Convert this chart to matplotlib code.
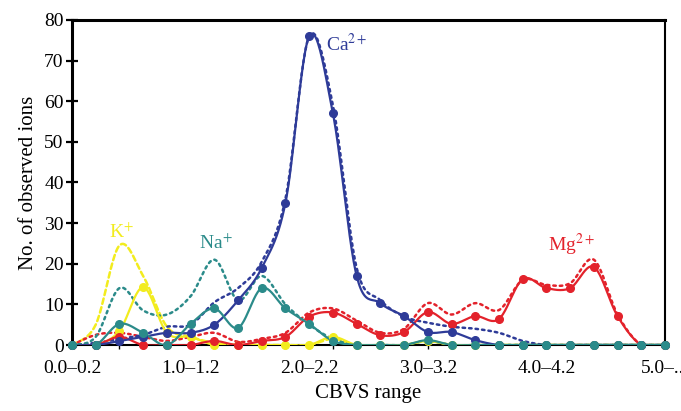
import numpy as np
import matplotlib
matplotlib.use("Agg")
import matplotlib.pyplot as plt

# ---- data ----
categories = ["0.0–0.2", "0.2–0.4", "0.4–0.6", "0.6–0.8", "0.8–1.0",
              "1.0–1.2", "1.2–1.4", "1.4–1.6", "1.6–1.8", "1.8–2.0",
              "2.0–2.2", "2.2–2.4", "2.4–2.6", "2.6–2.8", "2.8–3.0",
              "3.0–3.2", "3.2–3.4", "3.4–3.6", "3.6–3.8", "3.8–4.0",
              "4.0–4.2", "4.2–4.4", "4.4–4.6", "4.6–4.8", "4.8–5.0",
              "5.0–..."]
labeled_ticks = ["0.0–0.2", "1.0–1.2", "2.0–2.2", "3.0–3.2", "4.0–4.2", "5.0–..."]

ca_obs = [0, 0, 1, 2, 3, 3, 5, 11, 19, 35, 76, 57, 17, 10.3, 7.1, 3.2, 3.2, 1.2, 0, 0, 0, 0, 0, 0, 0, 0]
ca_exp = [0, 0.5, 1.5, 2.5, 4.5, 5, 10.5, 14, 20.5, 36, 76, 59, 19, 11, 7, 5.5, 4.5, 4, 3, 1, 0, 0, 0, 0, 0, 0]

na_obs = [0, 0, 5.2, 3, 0, 5.2, 9, 4.2, 14, 9, 5.2, 1, 0, 0, 0, 1.2, 0, 0, 0, 0, 0, 0, 0, 0, 0, 0]
na_exp = [0, 2, 14, 8.5, 7.5, 12, 21, 11, 17, 10, 5, 1.5, 0, 0, 0, 1, 0, 0, 0, 0, 0, 0, 0, 0, 0, 0]

k_obs = [0, 0, 3.5, 14.2, 3, 2, 0, 0, 0, 0, 0, 2, 0, 0, 0, 1, 0, 0, 0, 0, 0, 0, 0, 0, 0, 0]
k_exp = [0, 5, 24.5, 17, 4.5, 2, 0.5, 0, 0, 0, 0, 1.5, 0, 0, 0, 1, 0, 0, 0, 0, 0, 0, 0, 0, 0, 0]

mg_obs = [0, 0, 2, 0, 0, 0, 1, 0, 1, 2, 7, 8, 5.2, 2.4, 3.2, 8.1, 5.2, 7.1, 6.4, 16.2, 14, 14, 19.2, 7.1, 0, 0]
mg_exp = [0, 2.5, 3, 2, 1, 2, 3, 0.8, 1.5, 3, 8, 9, 6, 3, 4, 10.3, 7.5, 10.3, 8.6, 16, 14.8, 15.2, 21, 7.5, 0, 0]

COL_CA = "#2e3b98"
COL_NA = "#2b8b8a"
COL_K = "#f2ec1e"
COL_MG = "#e3222b"

plt.rcParams["font.family"] = ["Liberation Serif", "DejaVu Serif"]
plt.rcParams["mathtext.fontset"] = "stix"

fig = plt.figure(figsize=(6.81, 4.11), dpi=100)
ax = fig.add_axes([72 / 681, 1 - 345 / 411, (665 - 72) / 681, (345 - 20) / 411])

XS, YS = 23.72, 4.0625  # pixel scale for smoothing


def smooth(vals, n=24):
    x = np.arange(len(vals), dtype=float) * XS
    y = np.asarray(vals, dtype=float) * YS
    P = np.column_stack([x, y])
    P = np.vstack([P[0], P, P[-1]])
    out = []
    t = np.linspace(0, 1, n, endpoint=False)
    for i in range(1, len(P) - 2):
        p0, p1, p2, p3 = P[i - 1], P[i], P[i + 1], P[i + 2]
        c1 = p1 + (p2 - p0) / 6
        c2 = p2 - (p3 - p1) / 6
        seg = ((1 - t) ** 3)[:, None] * p1 + (3 * (1 - t) ** 2 * t)[:, None] * c1 \
            + (3 * (1 - t) * t ** 2)[:, None] * c2 + (t ** 3)[:, None] * p2
        out.append(seg)
    out.append(P[-2][None, :])
    S = np.vstack(out)
    return S[:, 0] / XS, S[:, 1] / YS


idx = np.arange(len(categories))
dot = (0, (1.0, 1.6))

series = [
    (k_obs, k_exp, COL_K, (0, (2.2, 1.4))),
    (mg_obs, mg_exp, COL_MG, dot),
    (ca_obs, ca_exp, COL_CA, dot),
    (na_obs, na_exp, COL_NA, dot),
]

for obs, exp, col, ls in series:
    sx, sy = smooth(exp)
    ax.plot(sx, sy, color=col, lw=1.8, linestyle=ls, dash_capstyle="round", zorder=2)
for obs, exp, col, ls in series:
    sx, sy = smooth(obs)
    ax.plot(sx, sy, color=col, lw=1.6, zorder=3)
    ax.plot(idx, obs, linestyle="none", marker="o", ms=5.5, color=col,
            clip_on=False, zorder=4)

ax.set_xlim(0, len(categories) - 1)
ax.set_ylim(0, 80)
ax.set_yticks(np.arange(0, 81, 10))
ax.set_xticks(idx)
ax.set_xticklabels([c if c in labeled_ticks else "" for c in categories])

ax.tick_params(axis="y", direction="inout", length=8, width=1.6, labelsize=14, pad=2)
ax.tick_params(axis="x", direction="out", length=3, width=1.0, labelsize=14, pad=8)

for s in ["left", "top"]:
    ax.spines[s].set_linewidth(2.2)
ax.spines["right"].set_linewidth(1.5)
ax.spines["bottom"].set_linewidth(1.5)
for s in ax.spines.values():
    s.set_zorder(1)

ax.set_xlabel("CBVS range", fontsize=15, labelpad=5)
ax.set_ylabel("No. of observed ions", fontsize=15, labelpad=4)

ax.text(10.7, 74, "Ca$^{2+}$", color=COL_CA, fontsize=14, ha="left", va="center")
ax.text(6.07, 25.1, "Na$^{+}$", color=COL_NA, fontsize=14, ha="center", va="center")
ax.text(2.07, 27.8, "K$^{+}$", color=COL_K, fontsize=14, ha="center", va="center")
ax.text(21.04, 24.6, "Mg$^{2+}$", color=COL_MG, fontsize=14, ha="center", va="center")

fig.savefig("out.png", dpi=100)
